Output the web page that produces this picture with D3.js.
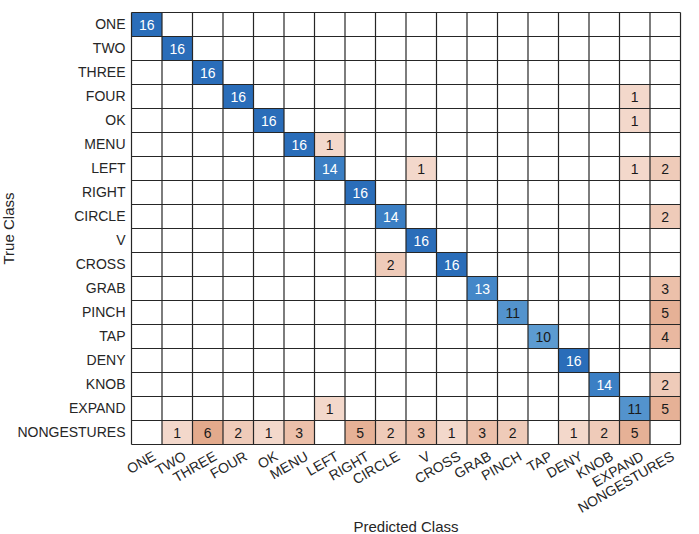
<!DOCTYPE html>
<html>
<head>
<meta charset="utf-8">
<script src="https://cdn.jsdelivr.net/npm/d3@7"></script>
<style>
  body { margin: 0; background: #fff; }
  text { font-family: "Liberation Sans", Arial, sans-serif; fill: #262626; }
</style>
</head>
<body>
<div id="chart"></div>
<script>
'use strict';

// Class names (rows = true, columns = predicted)
var classes = ['ONE', 'TWO', 'THREE', 'FOUR', 'OK', 'MENU', 'LEFT', 'RIGHT', 'CIRCLE',
  'V', 'CROSS', 'GRAB', 'PINCH', 'TAP', 'DENY', 'KNOB', 'EXPAND', 'NONGESTURES'];

// Non-zero cells: [true class, predicted class, count]
var counts = [
  ['ONE', 'ONE', 16],
  ['TWO', 'TWO', 16],
  ['THREE', 'THREE', 16],
  ['FOUR', 'FOUR', 16], ['FOUR', 'EXPAND', 1],
  ['OK', 'OK', 16], ['OK', 'EXPAND', 1],
  ['MENU', 'MENU', 16], ['MENU', 'LEFT', 1],
  ['LEFT', 'LEFT', 14], ['LEFT', 'V', 1], ['LEFT', 'EXPAND', 1], ['LEFT', 'NONGESTURES', 2],
  ['RIGHT', 'RIGHT', 16],
  ['CIRCLE', 'CIRCLE', 14], ['CIRCLE', 'NONGESTURES', 2],
  ['V', 'V', 16],
  ['CROSS', 'CIRCLE', 2], ['CROSS', 'CROSS', 16],
  ['GRAB', 'GRAB', 13], ['GRAB', 'NONGESTURES', 3],
  ['PINCH', 'PINCH', 11], ['PINCH', 'NONGESTURES', 5],
  ['TAP', 'TAP', 10], ['TAP', 'NONGESTURES', 4],
  ['DENY', 'DENY', 16],
  ['KNOB', 'KNOB', 14], ['KNOB', 'NONGESTURES', 2],
  ['EXPAND', 'LEFT', 1], ['EXPAND', 'EXPAND', 11], ['EXPAND', 'NONGESTURES', 5],
  ['NONGESTURES', 'TWO', 1], ['NONGESTURES', 'THREE', 6], ['NONGESTURES', 'FOUR', 2],
  ['NONGESTURES', 'OK', 1], ['NONGESTURES', 'MENU', 3], ['NONGESTURES', 'RIGHT', 5],
  ['NONGESTURES', 'CIRCLE', 2], ['NONGESTURES', 'V', 3], ['NONGESTURES', 'CROSS', 1],
  ['NONGESTURES', 'GRAB', 3], ['NONGESTURES', 'PINCH', 2], ['NONGESTURES', 'DENY', 1],
  ['NONGESTURES', 'KNOB', 2], ['NONGESTURES', 'EXPAND', 5]
];

var xTitle = 'Predicted Class';
var yTitle = 'True Class';

// Setup: dimensions
var W = 699, H = 534;
var margin = {top: 12.5, right: 18.5, bottom: 89.5, left: 131.5};
var width = W - margin.left - margin.right;
var height = H - margin.top - margin.bottom;

var x = d3.scaleBand().domain(classes).range([0, width]);
var y = d3.scaleBand().domain(classes).range([0, height]);

var diagColor = d3.scaleLinear()
  .domain([10, 11, 13, 14, 16])
  .range(['#5c9bd1', '#5393cd', '#4487c8', '#3b7fc4', '#2a6db9'])
  .clamp(true);
var offColor = d3.scaleLinear()
  .domain([1, 2, 3, 4, 5, 6])
  .range(['#f3d8cb', '#efcbb9', '#ecc0aa', '#e9b8a0', '#e6b196', '#e3aa8c'])
  .clamp(true);

var svg = d3.select('#chart').append('svg')
  .attr('width', W)
  .attr('height', H);

var g = svg.append('g')
  .attr('transform', 'translate(' + margin.left + ',' + margin.top + ')');

// Cells
var cell = g.selectAll('g.cell')
  .data(counts)
  .enter().append('g')
  .attr('class', 'cell')
  .attr('transform', function(d){ return 'translate(' + x(d[1]) + ',' + y(d[0]) + ')' });

cell.append('rect')
  .attr('width', x.bandwidth())
  .attr('height', y.bandwidth())
  .attr('fill', function(d){ return d[0] === d[1] ? diagColor(d[2]) : offColor(d[2]) });

cell.append('text')
  .attr('x', x.bandwidth() / 2)
  .attr('y', y.bandwidth() / 2)
  .attr('dy', '0.36em')
  .attr('text-anchor', 'middle')
  .style('font-size', '14px')
  .style('fill', function(d){ return (d[0] === d[1] && d[2] >= 13) ? '#ffffff' : '#1a1a1a' })
  .text(function(d){ return d[2] });

// Grid lines
var grid = g.append('g').attr('stroke', '#262626').attr('stroke-width', 1.2);
grid.selectAll('line.v')
  .data(classes.concat(['_end']))
  .enter().append('line')
  .attr('x1', function(d, i){ return i * x.bandwidth() })
  .attr('x2', function(d, i){ return i * x.bandwidth() })
  .attr('y1', 0).attr('y2', height);
grid.selectAll('line.h')
  .data(classes.concat(['_end']))
  .enter().append('line')
  .attr('y1', function(d, i){ return i * y.bandwidth() })
  .attr('y2', function(d, i){ return i * y.bandwidth() })
  .attr('x1', 0).attr('x2', width);

// Y tick labels
g.selectAll('text.ylab')
  .data(classes)
  .enter().append('text')
  .attr('class', 'ylab')
  .attr('x', -6)
  .attr('y', function(d){ return y(d) + y.bandwidth() / 2 })
  .attr('dy', '0.3em')
  .attr('text-anchor', 'end')
  .style('font-size', '14px')
  .text(function(d){ return d });

// X tick labels, rotated
g.selectAll('text.xlab')
  .data(classes)
  .enter().append('text')
  .attr('class', 'xlab')
  .attr('transform', function(d){
    return 'translate(' + (x(d) + x.bandwidth() / 2 + 5) + ',' + (height + 6) + ') rotate(-30)';
  })
  .attr('dy', '0.71em')
  .attr('text-anchor', 'end')
  .style('font-size', '14px')
  .text(function(d){ return d });

// Axis titles
g.append('text')
  .attr('x', width / 2)
  .attr('y', height + 87)
  .attr('text-anchor', 'middle')
  .style('font-size', '15px')
  .text(xTitle);

g.append('text')
  .attr('transform', 'translate(' + (-margin.left + 14) + ',' + (height / 2) + ') rotate(-90)')
  .attr('text-anchor', 'middle')
  .style('font-size', '15px')
  .text(yTitle);
</script>
</body>
</html>
